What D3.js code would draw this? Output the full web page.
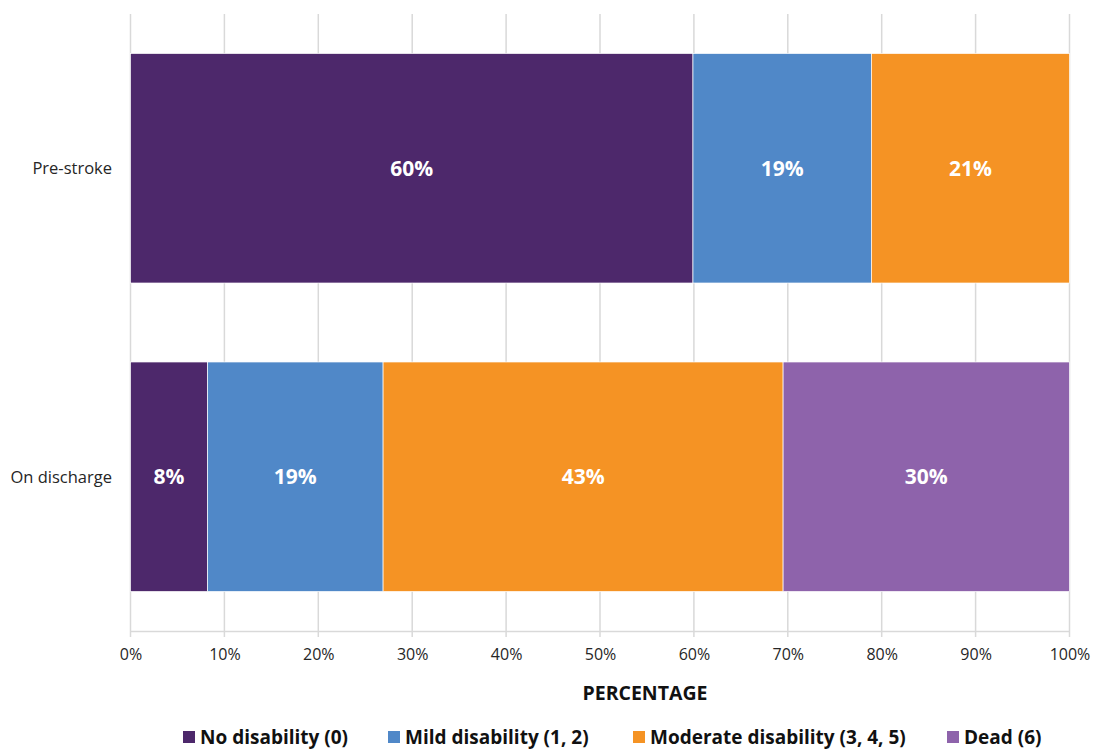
<!DOCTYPE html>
<html><head><meta charset="utf-8">
<script src="https://cdn.jsdelivr.net/npm/d3@7"></script>
<style>body{margin:0;background:#fff;font-family:"Open Sans","Noto Sans",sans-serif;}</style>
</head><body><svg id="c" width="1094" height="749"></svg>
<script>
const categories = ["Pre-stroke", "On discharge"];
const seriesNames = ["No disability (0)", "Mild disability (1, 2)", "Moderate disability (3, 4, 5)", "Dead (6)"];
const seriesColors = ["#4d286b", "#5088c8", "#f59324", "#8e63ab"];
const noDisability = [59.9, 8.2];
const mildDisability = [19.0, 18.7];
const moderateDisability = [21.1, 42.6];
const dead = [0, 30.5];
const barLabels = [["60%", "19%", "21%", ""], ["8%", "19%", "43%", "30%"]];
const xTicks = [0,10,20,30,40,50,60,70,80,90,100];

const svg = d3.select("#c");
const x = d3.scaleLinear().domain([0,100]).range([130.5, 1069.5]);
const y = d3.scaleBand().domain(categories).range([14, 631]).paddingInner(0.256).paddingOuter(0.128);

// gridlines
svg.append("g").selectAll("line").data(xTicks).join("line")
  .attr("x1", d=>x(d)).attr("x2", d=>x(d)).attr("y1", 14).attr("y2", 637)
  .attr("stroke", "#d9d9d9").attr("stroke-width", 1.5);
svg.append("line").attr("x1", x(0)).attr("x2", x(100)).attr("y1", 631.5).attr("y2", 631.5)
  .attr("stroke", "#d9d9d9").attr("stroke-width", 1.5);

const series = [noDisability, mildDisability, moderateDisability, dead];
const rows = categories.map((c,i)=>{ const o={cat:c}; series.forEach((s,j)=>o["s"+j]=s[i]); return o;});
const stack = d3.stack().keys(series.map((_,j)=>"s"+j))(rows);

stack.forEach((layer,j)=>{
  svg.append("g").selectAll("rect").data(layer).join("rect")
    .attr("x", d=>x(d[0])).attr("width", d=>Math.max(0, x(d[1])-x(d[0])))
    .attr("y", d=>y(d.data.cat)).attr("height", y.bandwidth())
    .attr("fill", seriesColors[j]).attr("stroke", "#fff").attr("stroke-width", 0.7);
  svg.append("g").selectAll("text").data(layer).join("text")
    .attr("x", d=>(x(d[0])+x(d[1]))/2).attr("y", d=>y(d.data.cat)+y.bandwidth()/2)
    .attr("dy", "0.36em").attr("text-anchor", "middle")
    .attr("fill", "#fff").attr("font-weight", "bold").attr("font-size", 21)
    .text((d,i)=>barLabels[i][j]);
});

// axis
const ax = svg.append("g").attr("transform", "translate(0,631)")
  .call(d3.axisBottom(x).tickValues(xTicks).tickFormat(d=>d+"%").tickSize(0).tickPadding(18));
ax.select(".domain").remove();
ax.selectAll("text").attr("font-size", 16).attr("fill", "#262626").attr("font-family", "'Open Sans','Noto Sans',sans-serif");

// category labels
svg.append("g").selectAll("text").data(categories).join("text")
  .attr("x", 112).attr("y", d=>y(d)+y.bandwidth()/2).attr("dy","0.36em")
  .attr("text-anchor","end").attr("font-size", 16.5).attr("fill", "#262626").text(d=>d);

svg.append("text").attr("x", 645).attr("y", 700).attr("text-anchor","middle")
  .attr("font-weight","bold").attr("font-size", 19.5).attr("fill","#111").text("PERCENTAGE");

// legend
const legX = [183, 388, 633, 947];
const leg = svg.append("g").selectAll("g").data(seriesNames).join("g")
  .attr("transform", (d,i)=>`translate(${legX[i]},731)`);
leg.append("rect").attr("width", 12).attr("height", 12).attr("fill", (d,i)=>seriesColors[i]);
leg.append("text").attr("x", 17).attr("y", 6).attr("dy","0.36em")
  .attr("font-weight","bold").attr("font-size", 19).attr("fill","#111").text(d=>d);
</script></body></html>
